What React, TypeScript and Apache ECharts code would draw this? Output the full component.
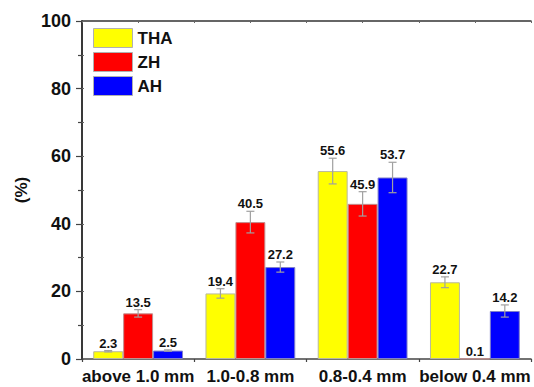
import React, { useEffect, useRef } from "react";
import * as echarts from "echarts";

const categories = ["above 1.0 mm", "1.0-0.8 mm", "0.8-0.4 mm", "below 0.4 mm"];
const seriesNames = ["THA", "ZH", "AH"];
const colors = ["#ffff00", "#ff0000", "#0000ff"];
const borderColors = ["#b8b8a0", "#c09090", "#8080c8"];
const thaValues = [2.3, 19.4, 55.6, 22.7];
const zhValues = [13.5, 40.5, 45.9, 0.1];
const ahValues = [2.5, 27.2, 53.7, 14.2];
const thaErrors = [0.2, 1.4, 3.8, 1.6];
const zhErrors = [1.1, 3.2, 3.6, 0];
const ahErrors = [0.2, 1.5, 4.5, 1.8];
const yTicks = [0, 20, 40, 60, 80, 100];

const allValues = [thaValues, zhValues, ahValues];
const allErrors = [thaErrors, zhErrors, ahErrors];

export default function App() {
  const ref = useRef<HTMLDivElement>(null);
  useEffect(() => {
    if (!ref.current) return;
    const chart = echarts.init(ref.current, undefined, { renderer: "svg" });
    const font = "Arial, 'Liberation Sans', sans-serif";
    const gap = 0.2;
    const series: any[] = [];
    allValues.forEach((vals, si) => {
      series.push({
        name: seriesNames[si],
        type: "bar",
        data: vals,
        barGap: "0%",
        barCategoryGap: "20%",
        itemStyle: { color: colors[si], borderColor: borderColors[si], borderWidth: 1 },
        xAxisIndex: 0,
        yAxisIndex: 0,
      });
    });
    allValues.forEach((vals, si) => {
      series.push({
        type: "custom",
        name: seriesNames[si] + "_err",
        xAxisIndex: 0,
        yAxisIndex: 0,
        z: 5,
        silent: true,
        data: vals.map((v, i) => [i, v, allErrors[si][i]]),
        renderItem: (params: any, api: any) => {
          const ci = api.value(0);
          const v = api.value(1);
          const e = api.value(2);
          const catW = api.size([1, 0])[0];
          const bw = (catW * (1 - gap)) / 3;
          const c = api.coord([ci, v]);
          const x = c[0] + (si - 1) * bw;
          const top = api.coord([ci, v + e])[1];
          const bot = api.coord([ci, v - e])[1];
          const children: any[] = [];
          const st = { stroke: "#a0a0a0", lineWidth: 1.2 };
          if (e > 0) {
            children.push(
              { type: "line", shape: { x1: x, y1: top, x2: x, y2: bot }, style: st },
              { type: "line", shape: { x1: x - 4, y1: top, x2: x + 4, y2: top }, style: st },
              { type: "line", shape: { x1: x - 4, y1: bot, x2: x + 4, y2: bot }, style: st }
            );
          }
          children.push({
            type: "text",
            x: x,
            y: top - 1,
            style: {
              text: String(v),
              fill: "#111",
              font: `bold 13px ${font}`,
              textAlign: "center",
              textVerticalAlign: "bottom",
            },
          });
          return { type: "group", children };
        },
      });
    });

    chart.setOption({
      animation: false,
      grid: { left: 82, right: 3, top: 21, bottom: 28 },
      legend: {
        data: seriesNames,
        orient: "vertical",
        left: 93,
        top: 28,
        padding: 0,
        itemWidth: 39,
        itemHeight: 19,
        itemGap: 4,
        icon: "rect",
        textStyle: { fontFamily: font, fontWeight: "bold", fontSize: 17, color: "#111", padding: [0, 0, 0, 0] },
        itemStyle: { borderColor: "#b0b0b0", borderWidth: 1 },
      },
      xAxis: [
        {
          type: "category",
          data: categories,
          position: "bottom",
          axisLine: { lineStyle: { color: "#444", width: 1.5 } },
          axisTick: { alignWithLabel: true, length: 6, lineStyle: { color: "#444", width: 1.2 } },
          axisLabel: { fontFamily: font, fontWeight: "bold", fontSize: 17, color: "#111", margin: 9, interval: 0 },
        },
        {
          type: "value",
          min: 0,
          max: 4,
          interval: 1,
          position: "bottom",
          axisLine: { show: false },
          axisTick: { show: true, length: 3, lineStyle: { color: "#444", width: 1.2 } },
          axisLabel: { show: false },
          splitLine: { show: false },
        },
        {
          type: "value",
          min: 0,
          max: 8,
          interval: 1,
          position: "top",
          axisLine: { show: true, lineStyle: { color: "#333", width: 1.5 } },
          axisTick: { show: true, inside: true, length: 2, lineStyle: { color: "#666" } },
          axisLabel: { show: false },
          splitLine: { show: false },
        },
      ],
      yAxis: [
        {
          type: "value",
          min: 0,
          max: 100,
          interval: 20,
          name: "(%)",
          nameLocation: "middle",
          nameGap: 52,
          nameRotate: 90,
          nameTextStyle: { fontFamily: font, fontWeight: "bold", fontSize: 17, color: "#111" },
          axisLine: { show: true, lineStyle: { color: "#555", width: 1.5 } },
          axisTick: { show: true, length: 6, lineStyle: { color: "#444", width: 1.2 } },
          minorTick: { show: true, splitNumber: 2, length: 4, lineStyle: { color: "#444", width: 1.2 } },
          axisLabel: { fontFamily: font, fontWeight: "bold", fontSize: 18, color: "#111", margin: 11, formatter: (v: number) => (yTicks.includes(v) ? String(v) : "") },
          splitLine: { show: false },
        },
        {
          type: "value",
          min: 0,
          max: 100,
          interval: 10,
          position: "right",
          axisLine: { show: true, lineStyle: { color: "#222", width: 1.5 } },
          axisTick: { show: true, length: 2, lineStyle: { color: "#666" } },
          axisLabel: { show: false },
          splitLine: { show: false },
        },
      ],
      series,
    });
    return () => chart.dispose();
  }, []);
  return <div ref={ref} style={{ position: "absolute", left: 0, top: 0, width: 534, height: 387 }} />;
}
